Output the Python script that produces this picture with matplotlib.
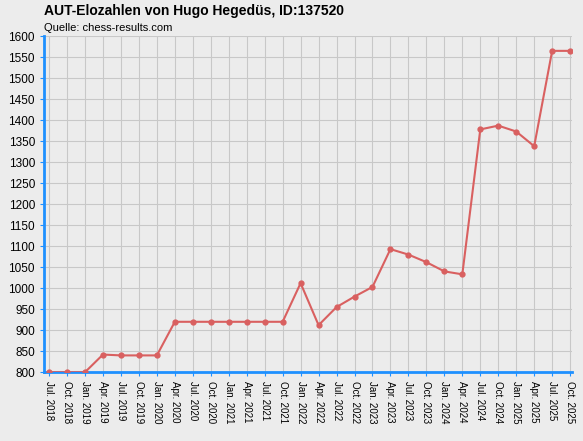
import matplotlib.pyplot as plt

plt.rcParams['font.family'] = ['Liberation Sans', 'DejaVu Sans']

labels = ["Jul. 2018", "Oct. 2018", "Jan. 2019", "Apr. 2019", "Jul. 2019", "Oct. 2019",
          "Jan. 2020", "Apr. 2020", "Jul. 2020", "Oct. 2020", "Jan. 2021", "Apr. 2021",
          "Jul. 2021", "Oct. 2021", "Jan. 2022", "Apr. 2022", "Jul. 2022", "Oct. 2022",
          "Jan. 2023", "Apr. 2023", "Jul. 2023", "Oct. 2023", "Jan. 2024", "Apr. 2024",
          "Jul. 2024", "Oct. 2024", "Jan. 2025", "Apr. 2025", "Jul. 2025", "Oct. 2025"]
elo = [800, 800, 800, 842, 840, 840, 840, 920, 920, 920, 920, 920, 920, 920, 1012,
       912, 955, 980, 1003, 1093, 1080, 1062, 1040, 1033, 1378, 1387, 1373, 1338,
       1565, 1565]

bg = "#ececec"
fig = plt.figure(figsize=(5.83, 4.41), dpi=100, facecolor=bg)
ax = fig.add_axes([0.0755, 0.156, 0.9055, 0.762], facecolor=bg)
x = range(len(elo))
ax.plot(x, elo, color="#d96060", lw=1.5, marker="o", ms=3.5, zorder=3)
ax.set_xlim(-0.28, 29.1)
ax.set_ylim(800, 1600)
ax.set_yticks(range(800, 1601, 50))
ax.set_xticks(list(x))
ax.set_xticklabels(labels, rotation=270, fontsize=7)
ax.tick_params(axis="y", labelsize=8.5, length=3, color="#1e90ff")
ax.tick_params(axis="x", length=3, color="#1e90ff")
ax.grid(color="#c8c8c8", lw=0.8)
for s in ["top", "right"]:
    ax.spines[s].set_visible(False)
for s in ["left", "bottom"]:
    ax.spines[s].set_color("#1e90ff")
    ax.spines[s].set_linewidth(2)
fig.text(0.075, 0.965, "AUT-Elozahlen von Hugo Hegedüs, ID:137520", fontsize=10, fontweight="bold")
fig.text(0.075, 0.93, "Quelle: chess-results.com", fontsize=8)
fig.savefig("out.png", dpi=100, facecolor=bg)
